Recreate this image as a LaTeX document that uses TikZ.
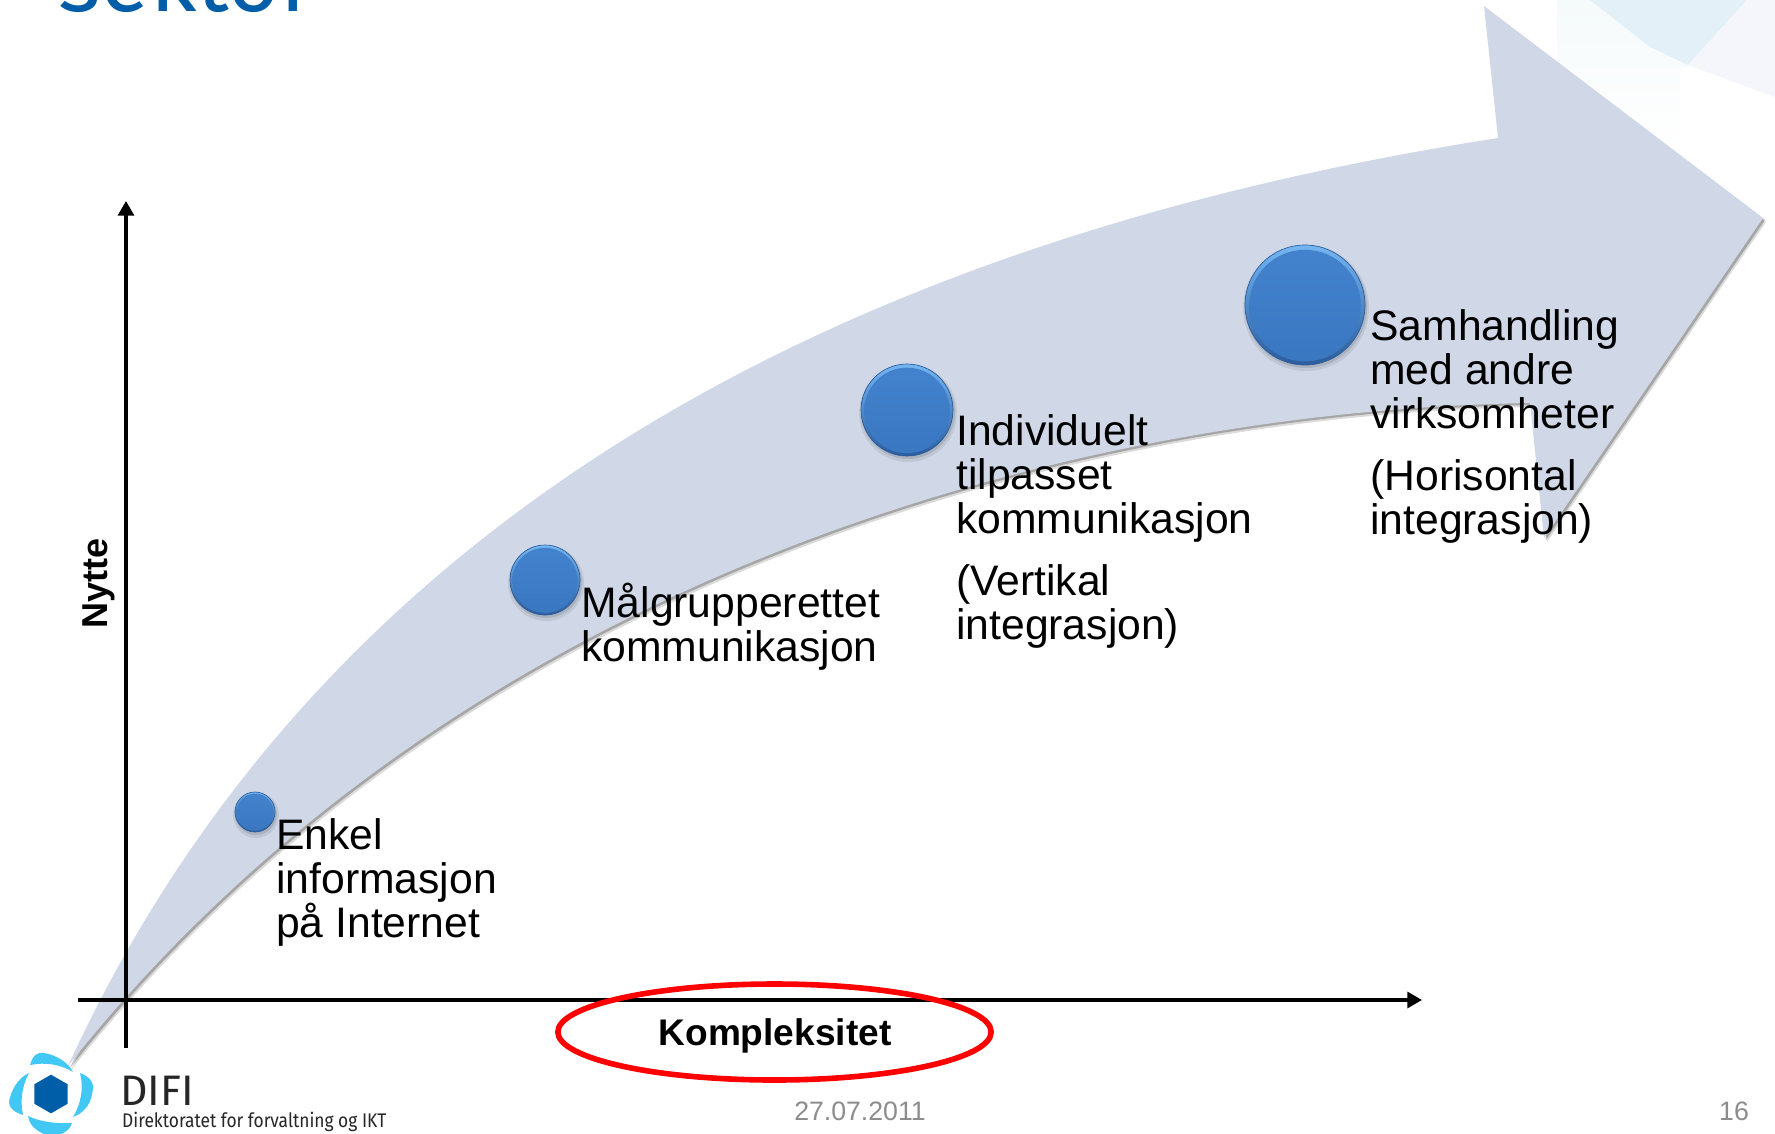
\documentclass[tikz,border=0pt]{standalone}
\usepackage{fontspec}
\setmainfont{Liberation Sans}
\newfontfamily\logofont{Fira Sans}
\usetikzlibrary{arrows.meta,shapes.geometric}
\definecolor{arrowfill}{HTML}{D0D8E8}
\definecolor{difiblue}{HTML}{005DA8}
\definecolor{difisky}{HTML}{42C8F5}
\definecolor{ballmid}{HTML}{3D7CC8}
\definecolor{balllight}{HTML}{74B6F2}
\definecolor{balldark}{HTML}{2B5C9C}
\definecolor{paleA}{HTML}{F5FAFB}
\definecolor{paleB}{HTML}{E3F0F8}
\definecolor{paleC}{HTML}{F4F6FC}
\tikzset{
  x=0.75pt,y=-0.75pt,
  axisline/.style={line width=2.4pt,-{Triangle[length=11pt,width=12pt]}},
  bodytext/.style={anchor=base west,align=left,inner sep=0pt,font=\fontsize{32}{33}\selectfont},
  axislabel/.style={inner sep=0pt,font=\fontsize{27.8}{30}\selectfont\bfseries},
  footer/.style={inner sep=0pt,text=black!45,font=\fontsize{20}{22}\selectfont},
  petal/.style={fill=difisky,draw=none},
  bubble/.style={circle,inner sep=0pt,draw=balldark,line width=.5pt,top color=balllight,bottom color=balldark},
}
\newcommand\arrowshape{
  (68,1066) .. controls (300,560) and (780,250) .. (1498,138)
  -- (1484,6) -- (1763,218) -- (1544,538) -- (1530,403)
  .. controls (1100,410) and (470,560) .. (68,1066) -- cycle}
\newcommand\ball[3]{%
  \fill[black,opacity=.08] (#2+1,#3+3) circle ({#1+3});
  \fill[black,opacity=.10] (#2+1,#3+2) circle ({#1+1});
  \node[bubble,minimum size=#1*1.5pt] (ball#1) at (#2,#3) {};
  \shade[top color=ballmid!90!balllight,bottom color=ballmid!85!balldark] (#2,#3+#1*.01) circle ({#1*.93});
}
\begin{document}
\begin{tikzpicture}
\useasboundingbox (0,0) rectangle (1775,1133);
\clip (0,0) rectangle (1775,1133);
\fill[white] (0,0) rectangle (1775,1133);
% pale corner artwork
\shade[top color=paleA,bottom color=white] (1557,0) -- (1590,0) -- (1650,47) -- (1688,65) -- (1680,70) -- (1680,150) -- (1557,150) -- cycle;
\fill[paleB] (1590,0) -- (1747,0) -- (1688,65) -- (1650,47) -- cycle;
\fill[paleC] (1747,0) -- (1775,0) -- (1775,97) -- (1688,65) -- cycle;
% title, cut by the page top
\node[anchor=base west,inner sep=0pt,text=difiblue,font=\logofont\fontsize{68}{68}\selectfont] (title) at (58,11) {sektor};
% big curved arrow
\begin{scope}[shift={(3,4)}]\fill[black,opacity=.14] \arrowshape;\end{scope}
\begin{scope}[shift={(2,2)}]\fill[black,opacity=.24] \arrowshape;\end{scope}
\fill[arrowfill] \arrowshape;
% axes
\coordinate (yb) at (126,1048);
\coordinate (yt) at (126,201);
\coordinate (xl) at (78,1000);
\coordinate (xr) at (1422,1000);
\draw[axisline] (yb) -- (yt);
\draw[axisline] (xl) -- (xr);
% bubbles
\ball{20}{255}{812}
\ball{35}{545}{580}
\ball{46}{907}{410}
\ball{60}{1305}{305}
% texts
\node[bodytext] (t1) at (276,937) {Enkel\\informasjon\\på Internet};
\node[bodytext] (t2) at (581,661) {Målgrupperettet\\kommunikasjon};
\node[bodytext] (t3) at (956,639.5) {Individuelt\\tilpasset\\kommunikasjon\\[13.5pt](Vertikal\\integrasjon)};
\node[bodytext] (t4) at (1370,534.5) {Samhandling\\med andre\\virksomheter\\[13.5pt](Horisontal\\integrasjon)};
\node[axislabel,font=\fontsize{27}{30}\selectfont\bfseries,rotate=90] (ny) at (99,583) {Nytte};
\node[axislabel] (ko) at (775,1036) {Kompleksitet};
\node[draw=red,line width=4.2pt,ellipse,minimum width=325pt,minimum height=72pt,inner sep=0pt] (ring) at (774.5,1032) {};
% footer
\node[footer] (date) at (860,1111) {27.07.2011};
\node[footer] (page) at (1734,1111) {16};
% logo
\node[regular polygon,regular polygon sides=6,rotate=30,fill=difiblue,minimum size=29pt,inner sep=0pt] (hex) at (51,1094) {};
\fill[petal] (30,1065) .. controls (33,1055) and (37,1052) .. (44,1053) .. controls (56,1055) and (68,1062) .. (73,1072) .. controls (60,1064) and (45,1062) .. (30,1065) -- cycle;
\fill[petal] (80,1073) .. controls (88,1076) and (93,1080) .. (93,1088) .. controls (92,1102) and (86,1112) .. (73,1117) .. controls (81,1104) and (84,1088) .. (80,1073) -- cycle;
\fill[petal] (28,1116) .. controls (40,1122) and (58,1124) .. (72,1123) .. controls (69,1132) and (60,1136) .. (50,1136) .. controls (40,1133) and (30,1128) .. (28,1116) -- cycle;
\fill[petal] (29,1073) .. controls (22,1086) and (20,1100) .. (23,1115) .. controls (14,1112) and (9,1108) .. (9,1102) .. controls (11,1090) and (18,1078) .. (29,1073) -- cycle;
\node[anchor=base west,inner sep=0pt,text=black!85,font=\logofont\fontsize{32}{32}\selectfont] (difi) at (120,1105) {DIFI};
\node[anchor=base west,inner sep=0pt,text=black!85,xscale=.88,font=\logofont\fontsize{14.8}{16}\selectfont] (dir) at (122,1127) {Direktoratet for forvaltning og IKT};
\end{tikzpicture}
\end{document}
